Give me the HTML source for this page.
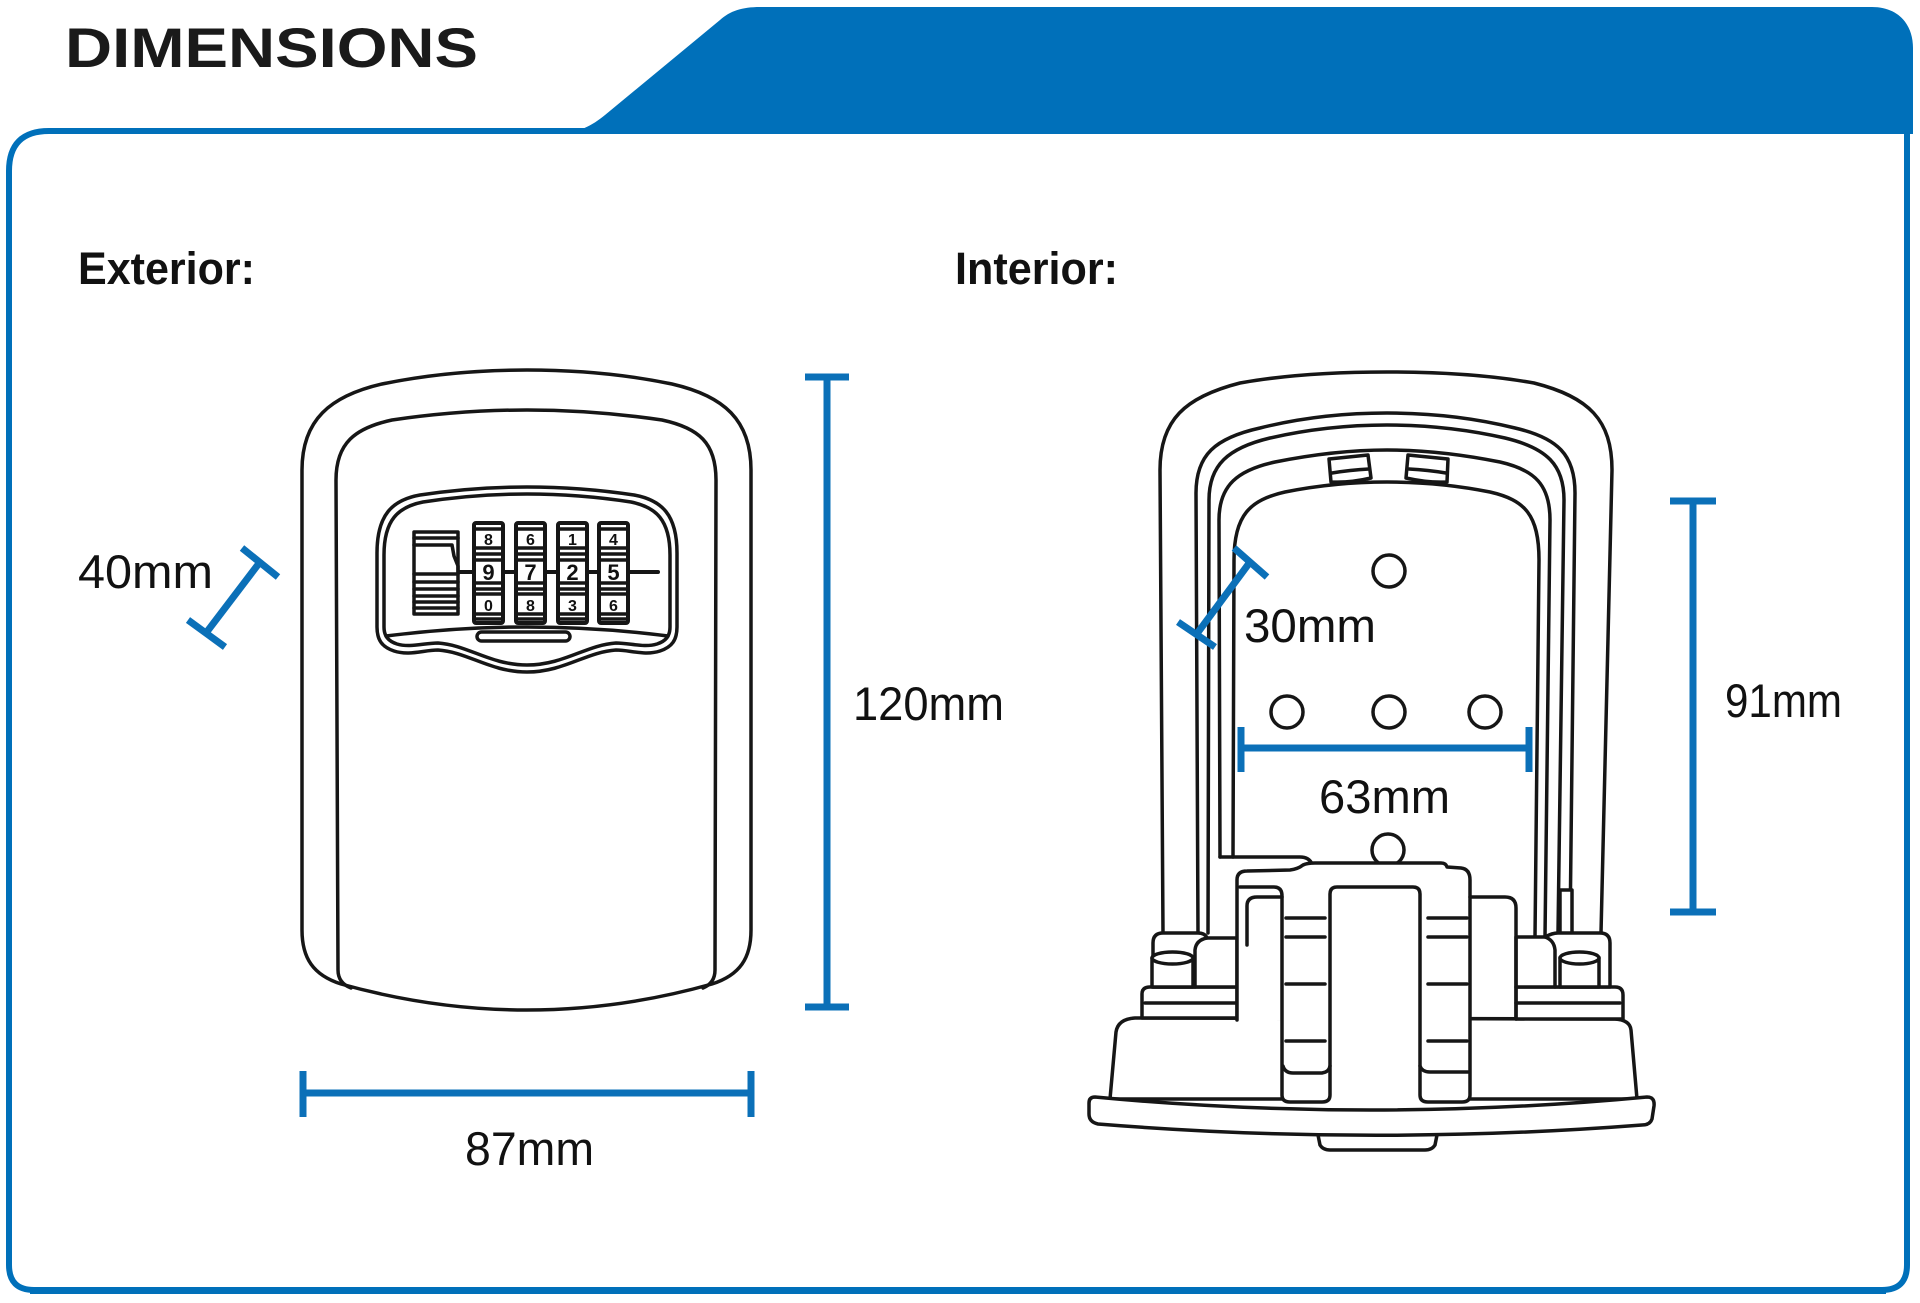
<!DOCTYPE html>
<html><head><meta charset="utf-8"><style>
html,body{margin:0;padding:0;background:#fff;}
svg{display:block;}
.d{fill:none;stroke:#161616;stroke-width:3.5;stroke-linejoin:round;stroke-linecap:round;}
.w{fill:#fff;stroke:#161616;stroke-width:3.5;stroke-linejoin:round;}
.b{stroke:#0b70b8;stroke-width:7;fill:none;}
.lbl{font-family:"Liberation Sans",sans-serif;font-size:47px;fill:#111;}
.dg{font-family:"Liberation Sans",sans-serif;font-weight:bold;fill:#111;text-anchor:middle;}
</style></head><body>
<svg width="1920" height="1303" viewBox="0 0 1920 1303" xmlns="http://www.w3.org/2000/svg">
<rect width="1920" height="1303" fill="#fff"/>
<!-- frame -->
<path d="M1907,130 L1907,1265 Q1907,1290 1882,1290 L34,1290 Q9,1290 9,1265 L9,171 Q9,131 49,131 L620,131" fill="none" stroke="#0070ba" stroke-width="6"/>
<line x1="30" y1="1291" x2="1886" y2="1291" stroke="#0070ba" stroke-width="6"/>
<!-- blue tab -->
<path d="M545,134 C578,134 590,127 605,115 L720,20 C730,11 742,7 760,7 L1872,7 C1898,7 1913,24 1913,48 L1913,134 Z" fill="#0070ba"/>

<text x="65" y="67" font-family="Liberation Sans, sans-serif" font-weight="bold" font-size="56" fill="#1a1a1a" textLength="413" lengthAdjust="spacingAndGlyphs">DIMENSIONS</text>
<text x="78" y="284" font-family="Liberation Sans, sans-serif" font-weight="bold" font-size="45" fill="#111" textLength="177" lengthAdjust="spacingAndGlyphs">Exterior:</text>
<text x="955" y="284" font-family="Liberation Sans, sans-serif" font-weight="bold" font-size="45" fill="#111" textLength="163" lengthAdjust="spacingAndGlyphs">Interior:</text>

<!-- ===== Exterior lock ===== -->
<g class="d">
<path d="M302,930 L302,470 C302,420 330,396 382,384 C430,374 480,370 527,370 C574,370 624,374 672,384 C724,396 751,420 751,470 L751,930 C751,958 740,975 712,984 Q527,1036 341,984 C313,975 302,958 302,930 Z"/>
<path d="M351,988 Q338,983 338,970 L336,480 C336,443 355,428 392,420 C440,413 488,410 527,410 C566,410 614,413 662,420 C699,428 716,443 716,480 L715,970 Q715,983 703,988"/>
<path d="M377,627 L377,553 C377,515 392,500 420,495 C460,489 495,487 527,487 C559,487 594,489 634,495 C662,500 677,515 677,553 L677,627 C677,640 672,647 660,651 C645,656 630,650 616,650 C586,652 564,672 527,672 C490,672 468,652 438,650 C424,650 409,656 394,651 C382,647 377,640 377,627 Z"/>
<path d="M384,627 L384,555 C384,520 398,507 423,502 C462,496 496,494 527,494 C558,494 592,496 631,502 C656,507 670,520 670,555 L670,627 C670,636 666,641 657,644 C644,648 630,643 616,643 C586,645 564,665 527,665 C490,665 468,645 438,643 C424,643 410,648 397,644 C388,641 384,636 384,627 Z"/>
<path d="M386,636 Q527,618 668,636"/>
<rect x="477" y="632" width="93" height="9" rx="4.5"/>
<line x1="458" y1="572" x2="658" y2="572" stroke-width="4"/>
</g>
<!-- slider -->
<g class="d" stroke-width="3">
<rect x="414" y="532" width="44" height="82" fill="#fff"/>
<line x1="414" y1="538" x2="458" y2="538"/>
<path d="M414,545 L452,545 L454,556 L458,566 L458,574 L414,574"/>
<line x1="414" y1="582" x2="458" y2="582"/>
<line x1="414" y1="589" x2="458" y2="589"/>
<line x1="414" y1="596" x2="458" y2="596"/>
<line x1="414" y1="602" x2="458" y2="602"/>
<line x1="414" y1="608" x2="458" y2="608"/>
</g>
<!-- wheels -->
<g class="d" stroke-width="2.5">
<g id="wh">
<rect x="474" y="523" width="29" height="100" rx="2" fill="#fff" stroke-width="4"/>
<line x1="474" y1="529" x2="503" y2="529"/><line x1="474" y1="548" x2="503" y2="548"/>
<line x1="474" y1="554" x2="503" y2="554"/><line x1="474" y1="560" x2="503" y2="560"/>
<line x1="474" y1="583" x2="503" y2="583"/><line x1="474" y1="589" x2="503" y2="589"/>
<line x1="474" y1="594" x2="503" y2="594"/><line x1="474" y1="614" x2="503" y2="614"/>
<line x1="474" y1="619" x2="503" y2="619"/>
</g>
<use href="#wh" x="42"/><use href="#wh" x="84"/><use href="#wh" x="125"/>
</g>
<g class="dg">
<text x="488.5" y="545" font-size="16">8</text><text x="488.5" y="580" font-size="22">9</text><text x="488.5" y="611" font-size="16">0</text>
<text x="530.5" y="545" font-size="16">6</text><text x="530.5" y="580" font-size="22">7</text><text x="530.5" y="611" font-size="16">8</text>
<text x="572.5" y="545" font-size="16">1</text><text x="572.5" y="580" font-size="22">2</text><text x="572.5" y="611" font-size="16">3</text>
<text x="613.5" y="545" font-size="16">4</text><text x="613.5" y="580" font-size="22">5</text><text x="613.5" y="611" font-size="16">6</text>
</g>

<!-- ===== Interior lock ===== -->
<g class="d">
<path d="M1163,933 L1160,470 C1160,420 1185,397 1240,383 C1290,374 1340,372 1387,372 C1434,372 1484,374 1534,383 C1589,397 1612,420 1612,470 L1601,933"/>
<path d="M1198,933 L1196,493 C1196,455 1215,438 1260,428 C1300,418 1345,413 1387,413 C1430,413 1475,418 1515,428 C1558,438 1575,455 1575,493 L1570,933"/>
<path d="M1208,933 L1209,500 C1209,465 1228,448 1270,438 C1305,430 1345,425 1387,425 C1430,425 1470,430 1505,438 C1547,448 1564,465 1564,500 L1558,933"/>
<path d="M1220,857 L1219,520 C1219,485 1238,470 1275,462 C1310,455 1350,450 1387,450 C1425,450 1465,455 1500,462 C1535,470 1550,485 1550,520 L1545,937"/>
<path d="M1233,857 L1234,560 C1234,515 1250,500 1285,492 C1320,485 1355,482 1387,482 C1420,482 1455,485 1490,492 C1525,500 1539,515 1539,560 L1535,937"/>
<!-- clips -->
<path d="M1329,459 L1368,455 L1371,478 Q1350,483 1331,482 Z" fill="#fff"/>
<path d="M1332,473 Q1350,470 1369,469"/>
<path d="M1408,455 L1448,459 L1447,482 Q1428,483 1406,478 Z" fill="#fff"/>
<path d="M1409,469 Q1428,470 1446,473"/>
<!-- holes -->
<circle cx="1389" cy="571" r="16"/>
<circle cx="1287" cy="712" r="16"/>
<circle cx="1389" cy="712" r="16"/>
<circle cx="1485" cy="712" r="16"/>
<circle cx="1388" cy="850" r="16"/>
<path d="M1220,857 L1300,857 Q1309,857 1312,864"/>
<rect x="1560" y="890" width="12" height="45" fill="#fff"/>
</g>
<!-- base body -->
<path class="w" d="M1110,1099 L1116,1032 Q1118,1019 1135,1018 L1615,1019 Q1630,1020 1631,1030 L1637,1099 Z"/>
<!-- left step & ledge -->
<g class="w">
<path d="M1142,1018 L1142,994 Q1142,987 1150,987 L1237,987 L1237,1018 Z"/>
<path d="M1153,987 L1153,943 Q1153,933 1163,933 L1198,933 Q1205,933 1207,938 L1237,938 L1237,987 Z"/>
<path d="M1516,1019 L1516,987 L1615,987 Q1623,987 1623,995 L1623,1019 Z"/>
<path d="M1516,987 L1516,937 L1545,937 Q1552,933 1558,933 L1600,933 Q1610,933 1610,943 L1610,987 Z"/>
</g>
<g class="d">
<line x1="1145" y1="1003" x2="1237" y2="1003"/>
<line x1="1516" y1="1003" x2="1620" y2="1003"/>
<path d="M1195,987 L1195,950 Q1196,940 1207,938"/>
<path d="M1555,987 L1555,950 Q1554,940 1545,937"/>
</g>
<!-- cylinders -->
<g class="w">
<path d="M1152,958 L1152,987 L1193,987 L1193,958 Z"/>
<ellipse cx="1172.5" cy="958" rx="20.5" ry="6"/>
<path d="M1560,958 L1560,987 L1599,987 L1599,958 Z"/>
<ellipse cx="1579.5" cy="958" rx="19.5" ry="6"/>
</g>
<!-- U block -->
<path d="M1237,1020 L1237,880 Q1237,871 1247,871 L1290,870 Q1298,869 1303,865 Q1307,863 1315,863 L1441,863 Q1446,863 1447,867 L1461,868 Q1470,869 1470,880 L1470,1102 L1282,1102 L1282,1020 Z" fill="#fff"/>
<g class="d">
<path d="M1237,1020 L1237,880 Q1237,871 1247,871 L1290,870 Q1298,869 1303,865 Q1307,863 1315,863 L1441,863 Q1446,863 1447,867 L1461,868 Q1470,869 1470,880 L1470,1095 Q1470,1102 1462,1102 L1428,1102 Q1420,1102 1420,1095 L1420,894 Q1420,887 1413,887 L1337,887 Q1330,887 1330,894 L1330,1095 Q1330,1102 1322,1102 L1290,1102 Q1282,1102 1282,1095 L1282,896 Q1282,887 1274,887 L1240,887"/>
<path d="M1247,945 L1247,906 Q1247,897 1257,897 L1282,897"/>
<path d="M1470,897 L1505,897 Q1516,897 1516,908 L1516,1019"/>
<path d="M1283,1066 Q1285,1073 1293,1073 L1322,1073 Q1329,1072 1330,1066"/>
<path d="M1420,1066 Q1422,1072 1430,1072 L1468,1072"/>
<line x1="1286" y1="918" x2="1325" y2="918"/><line x1="1286" y1="937" x2="1325" y2="937"/>
<line x1="1286" y1="984" x2="1325" y2="984"/><line x1="1286" y1="1041" x2="1325" y2="1041"/>
<line x1="1428" y1="918" x2="1467" y2="918"/><line x1="1428" y1="937" x2="1467" y2="937"/>
<line x1="1428" y1="984" x2="1467" y2="984"/><line x1="1428" y1="1041" x2="1467" y2="1041"/>
</g>
<!-- plate -->
<path class="w" d="M1317,1130 L1320,1145 Q1323,1150 1330,1150 L1425,1150 Q1432,1150 1435,1145 L1438,1130 Z"/>
<path class="w" d="M1095,1097 Q1370,1123 1647,1097 Q1655,1097 1654,1106 L1652,1119 Q1650,1125 1642,1125 Q1370,1146 1098,1124 Q1089,1122 1089,1114 L1089,1103 Q1089,1097 1095,1097 Z"/>

<!-- ===== blue dimension bars ===== -->
<g class="b">
<line x1="206" y1="633" x2="260" y2="562"/>
<line x1="242" y1="548" x2="278" y2="577"/>
<line x1="188" y1="620" x2="225" y2="647"/>
<line x1="827" y1="377" x2="827" y2="1007"/>
<line x1="805" y1="377" x2="849" y2="377"/>
<line x1="805" y1="1007" x2="849" y2="1007"/>
<line x1="303" y1="1093" x2="751" y2="1093"/>
<line x1="303" y1="1071" x2="303" y2="1117"/>
<line x1="751" y1="1071" x2="751" y2="1117"/>
<line x1="1196" y1="635" x2="1250" y2="562"/>
<line x1="1234" y1="548" x2="1267" y2="577"/>
<line x1="1178" y1="622" x2="1215" y2="647"/>
<line x1="1241" y1="748" x2="1529" y2="748"/>
<line x1="1241" y1="727" x2="1241" y2="772"/>
<line x1="1529" y1="727" x2="1529" y2="772"/>
<line x1="1693" y1="501" x2="1693" y2="912"/>
<line x1="1670" y1="501" x2="1716" y2="501"/>
<line x1="1670" y1="912" x2="1716" y2="912"/>
</g>

<!-- labels -->
<text class="lbl" x="78" y="588" textLength="135" lengthAdjust="spacingAndGlyphs">40mm</text>
<text class="lbl" x="853" y="720" textLength="151" lengthAdjust="spacingAndGlyphs">120mm</text>
<text class="lbl" x="465" y="1165" textLength="129" lengthAdjust="spacingAndGlyphs">87mm</text>
<text class="lbl" x="1244" y="642" textLength="132" lengthAdjust="spacingAndGlyphs">30mm</text>
<text class="lbl" x="1319" y="813" textLength="131" lengthAdjust="spacingAndGlyphs">63mm</text>
<text class="lbl" x="1725" y="717" textLength="117" lengthAdjust="spacingAndGlyphs">91mm</text>
</svg>
</body></html>
